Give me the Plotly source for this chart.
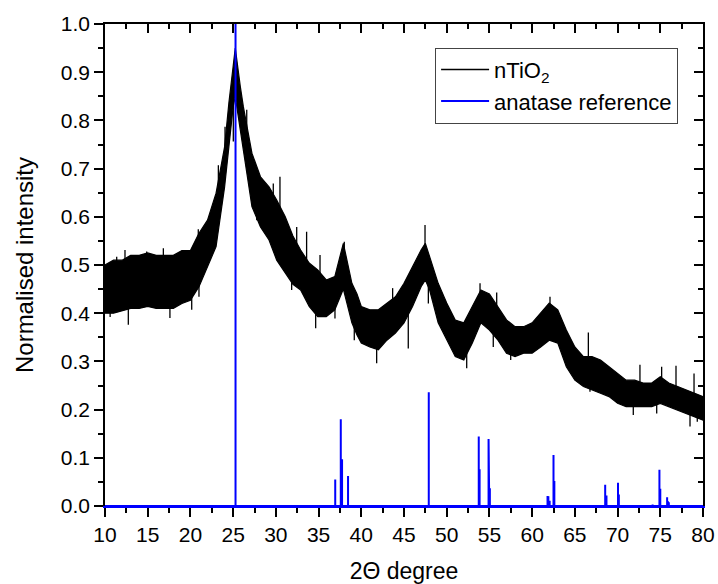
import plotly.graph_objects as go

# --- nTiO2 pattern: read-off upper and lower envelope of the noisy band ---
two_theta = [10, 11, 12, 13, 14, 15, 16, 17, 18, 19, 20, 21, 22, 23, 24, 24.5, 25, 25.25,
             25.84, 26.2, 27.2, 28.2, 29.2, 30.1, 31.1, 32, 32.9, 33.9, 34.9, 35.9, 36.9,
             37.9, 38.9, 39.5, 40, 41, 42, 43, 44, 45, 46, 47, 47.5, 48, 49, 50, 51, 52,
             53, 54, 55, 56, 57, 58, 59, 60, 61, 62, 63, 64, 65, 66, 67, 68, 69, 70, 71,
             72, 73, 74, 75, 76, 77, 78, 79, 80]
upper = [0.50, 0.51, 0.51, 0.52, 0.52, 0.525, 0.52, 0.52, 0.52, 0.53, 0.53, 0.566, 0.593,
         0.649, 0.745, 0.836, 0.919, 0.95, 0.87, 0.828, 0.732, 0.683, 0.662, 0.635, 0.60,
         0.56, 0.531, 0.504, 0.49, 0.469, 0.476, 0.545, 0.462, 0.44, 0.414, 0.407, 0.407,
         0.421, 0.434, 0.462, 0.497, 0.531, 0.545, 0.517, 0.462, 0.421, 0.386, 0.38, 0.414,
         0.448, 0.44, 0.414, 0.386, 0.372, 0.372, 0.38, 0.40, 0.421, 0.407, 0.365, 0.33,
         0.31, 0.31, 0.303, 0.289, 0.275, 0.261, 0.261, 0.255, 0.255, 0.268, 0.255, 0.248,
         0.241, 0.234, 0.227]
lower = [0.40, 0.40, 0.405, 0.41, 0.41, 0.414, 0.41, 0.41, 0.41, 0.42, 0.427, 0.455, 0.497,
         0.538, 0.662, 0.745, 0.828, 0.85, 0.78, 0.732, 0.621, 0.579, 0.552, 0.51, 0.483,
         0.46, 0.448, 0.414, 0.393, 0.393, 0.407, 0.45, 0.38, 0.355, 0.338, 0.33, 0.324,
         0.344, 0.359, 0.38, 0.414, 0.455, 0.469, 0.448, 0.38, 0.344, 0.31, 0.303, 0.338,
         0.38, 0.365, 0.344, 0.317, 0.31, 0.317, 0.317, 0.33, 0.344, 0.338, 0.289, 0.261,
         0.248, 0.241, 0.234, 0.227, 0.213, 0.206, 0.206, 0.206, 0.206, 0.213, 0.206, 0.199,
         0.193, 0.185, 0.178]

# isolated noise spikes: position, tip value, value where it leaves the band
spike_pos = [11.37, 12.34, 14.88, 16.83, 19.36, 20.92, 22.2, 23.27, 24.05, 26.59, 29.7,
             30.48, 32.44, 33.6, 35.17, 38.01, 43.67, 47.46, 53.9, 55.85, 62.09, 66.58,
             72.62, 75.16, 76.84, 78.95,
             10.6, 12.73, 17.6, 20.15, 21.0, 25.02, 27.76, 31.85, 34.66, 36.92, 39.18,
             41.8, 45.5, 47.85, 52.34, 55.45, 57.49, 64.63, 66.77, 70.09, 71.84, 74.58,
             78.48, 79.33]
spike_tip = [0.517, 0.531, 0.528, 0.535, 0.521, 0.574, 0.599, 0.707, 0.787, 0.822, 0.669,
             0.683, 0.579, 0.569, 0.521, 0.548, 0.452, 0.583, 0.462, 0.443, 0.434, 0.36,
             0.293, 0.289, 0.291, 0.275,
             0.392, 0.376, 0.39, 0.407, 0.434, 0.756, 0.593, 0.448, 0.369, 0.389, 0.344,
             0.296, 0.327, 0.42, 0.286, 0.33, 0.303, 0.279, 0.237, 0.216, 0.189, 0.192,
             0.165, 0.175]
spike_base = [0.46, 0.46, 0.46, 0.46, 0.47, 0.50, 0.54, 0.60, 0.70, 0.72, 0.60,
              0.58, 0.50, 0.47, 0.44, 0.50, 0.39, 0.50, 0.41, 0.39, 0.38, 0.28,
              0.23, 0.24, 0.23, 0.21,
              0.45, 0.45, 0.45, 0.47, 0.50, 0.85, 0.65, 0.50, 0.44, 0.44, 0.40,
              0.36, 0.40, 0.48, 0.34, 0.39, 0.35, 0.32, 0.28, 0.24, 0.23, 0.23,
              0.21, 0.21]

# --- anatase reference stick pattern ---
anatase_pos = [25.28, 36.95, 37.6, 37.75, 38.45, 47.9, 53.75, 53.85, 54.9, 54.98, 55.05,
               61.8, 61.9, 62.05, 62.5, 62.6, 68.55, 68.7, 70.05, 70.15, 74.1, 74.9, 75.0,
               75.8, 75.9, 76.0]
anatase_int = [1.0, 0.055, 0.18, 0.097, 0.062, 0.236, 0.144, 0.076, 0.139, 0.068, 0.037,
               0.021, 0.02, 0.011, 0.106, 0.052, 0.044, 0.022, 0.048, 0.024, 0.003, 0.075,
               0.036, 0.018, 0.01, 0.008]

x_range = [10, 80]
y_range = [0, 1]

# band polygon
band_x = two_theta + two_theta[::-1]
band_y = upper + lower[::-1]

# spike segments
sp_x, sp_y = [], []
for p, t, b in zip(spike_pos, spike_tip, spike_base):
    sp_x += [p, p, None]
    sp_y += [b, t, None]

# stick path along baseline
stick_x = [x_range[0]]
stick_y = [0]
for p, h in zip(anatase_pos, anatase_int):
    stick_x += [p, p, p]
    stick_y += [0, h, 0]
stick_x.append(x_range[1])
stick_y.append(0)

fig = go.Figure()
fig.add_trace(go.Scatter(x=band_x, y=band_y, fill="toself", fillcolor="black",
                         mode="lines", line=dict(color="black", width=1.2),
                         showlegend=False, hoverinfo="skip"))
fig.add_trace(go.Scatter(x=sp_x, y=sp_y, mode="lines", line=dict(color="black", width=1.3),
                         showlegend=False, hoverinfo="skip", connectgaps=False))
fig.add_trace(go.Scatter(x=[None], y=[None], mode="lines",
                         line=dict(color="black", width=1.5), name="nTiO<sub>2</sub>"))
fig.add_trace(go.Scatter(x=stick_x, y=stick_y, mode="lines",
                         line=dict(color="#0000FF", width=2), name="anatase reference",
                         xaxis="x2", yaxis="y2"))

font_family = "Liberation Sans, Arial, sans-serif"
common = dict(showgrid=False, zeroline=False, showline=True, linecolor="black",
              linewidth=1.5, tickcolor="black", tickwidth=1.5, ticklen=9, automargin=False)

fig.update_layout(
    width=718, height=584,
    margin=dict(l=105, r=15, t=24, b=78),
    paper_bgcolor="white", plot_bgcolor="white",
    font=dict(family=font_family, color="black", size=21),
    xaxis=dict(range=x_range, dtick=5, tick0=10, ticks="outside",
               minor=dict(dtick=2.5, ticklen=5, ticks="outside", tickcolor="black", tickwidth=1.5),
               tickfont=dict(size=21),
               title=dict(text="2\u0398 degree", font=dict(size=23), standoff=22), **common),
    yaxis=dict(range=y_range, dtick=0.1, tick0=0, ticks="outside", tickformat=".1f",
               minor=dict(dtick=0.05, ticklen=5, ticks="outside", tickcolor="black", tickwidth=1.5),
               tickfont=dict(size=21),
               title=dict(text="Normalised intensity", font=dict(size=24), standoff=20), **common),
    xaxis2=dict(range=x_range, overlaying="x", side="top", dtick=5, tick0=10, ticks="inside",
                showticklabels=False,
                minor=dict(dtick=2.5, ticklen=5, ticks="inside", tickcolor="black", tickwidth=1.5),
                **common),
    yaxis2=dict(range=y_range, overlaying="y", side="right", dtick=0.1, tick0=0, ticks="inside",
                showticklabels=False,
                minor=dict(dtick=0.05, ticklen=5, ticks="inside", tickcolor="black", tickwidth=1.5),
                **common),
    legend=dict(x=0.552, y=0.951, xanchor="left", yanchor="top",
                bordercolor="#444", borderwidth=1, bgcolor="white",
                font=dict(size=22), itemwidth=48, tracegroupgap=0),
)
# blue reference baseline runs along the bottom axis
fig.update_xaxes(selector=dict(side="bottom"), linecolor="#0000FF")
fig.layout.xaxis.linecolor = "#0000FF"

fig.write_html("out.html")
